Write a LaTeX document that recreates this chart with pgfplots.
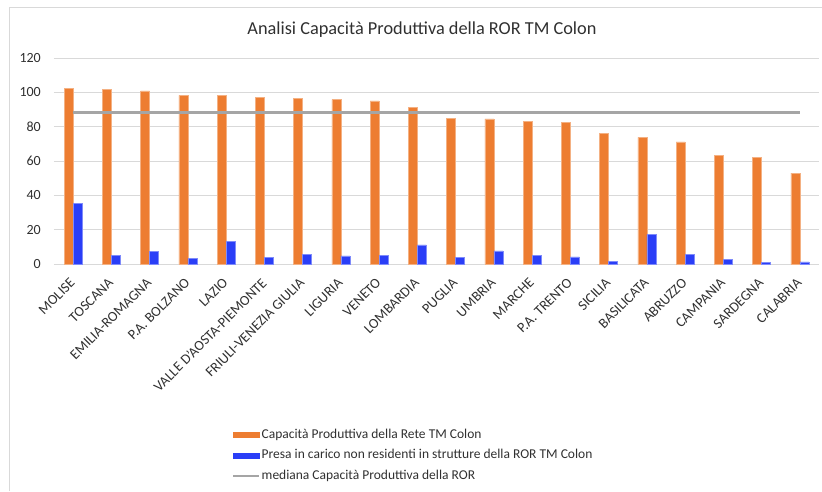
\documentclass[border=0pt]{standalone}
\usepackage{fontspec}
\setmainfont{Carlito}
\usepackage{pgfplots}
\pgfplotsset{compat=1.18}
\definecolor{cor}{HTML}{ED7D31}
\definecolor{cbl}{HTML}{2A3EF7}
\definecolor{cgr}{HTML}{A5A5A5}
\definecolor{cgrid}{HTML}{D9D9D9}
\definecolor{ctxt}{HTML}{303030}
\begin{document}
\begin{tikzpicture}
\path[use as bounding box] (0pt,0pt) rectangle (822pt,491pt);
\draw[cgrid, line width=1pt] (9.5pt,0pt) -- (9.5pt,483.5pt) -- (822pt,483.5pt);
\node[font=\fontsize{18.3}{20}\selectfont, text=ctxt] at (422pt,461pt) {Analisi Capacità Produttiva della ROR TM Colon};
\begin{axis}[
  at={(54pt,227pt)}, anchor=south west,
  scale only axis, width=765pt, height=206pt,
  xmin=-0.5, xmax=19.5, ymin=0, ymax=120,
  ytick={0,20,...,120},
  xtick={0,...,19},
  xticklabels={MOLISE, TOSCANA, EMILIA-ROMAGNA, P.A. BOLZANO, LAZIO, VALLE D'AOSTA-PIEMONTE, FRIULI-VENEZIA GIULIA, LIGURIA, VENETO, LOMBARDIA, PUGLIA, UMBRIA, MARCHE, P.A. TRENTO, SICILIA, BASILICATA, ABRUZZO, CAMPANIA, SARDEGNA, CALABRIA},
  axis line style={draw=none},
  ymajorgrids, grid style={cgrid, line width=1pt},
  major tick length=0pt,
  /pgf/number format/assume math mode=true,
  y tick label style={font=\fontsize{14}{16}\selectfont, text=ctxt, inner sep=0pt, anchor=east, xshift=-13pt},
  x tick label style={font=\fontsize{14.2}{16}\selectfont, text=ctxt, inner sep=0pt, xshift=-4pt, yshift=-13pt, rotate=45, anchor=north east},
  legend style={at={(0.2327,-0.799)}, anchor=north west, draw=none, fill=none, inner sep=0pt,
    font=\fontsize{13.5}{15}\selectfont, text=ctxt, row sep=8pt, column sep=1.5pt,
    nodes={inner sep=0pt, text height=9.5pt, text depth=3pt}},
  legend cell align=left,
]
\addplot[fill=cor, draw=cor!60!white, line width=0.5pt, ybar, bar width=9pt, bar shift=-4.5pt,
  legend image code/.code={\fill[cor] (0pt,-2.5pt) rectangle (26pt,2.5pt);}]
  coordinates {(0,102.5) (1,101.6) (2,100.8) (3,98.3) (4,98.3) (5,97.1) (6,96.3) (7,95.7) (8,95.0) (9,91.1) (10,84.9) (11,84.5) (12,83.1) (13,82.3) (14,75.9) (15,73.8) (16,71.1) (17,63.3) (18,62.1) (19,53.0)};
\addlegendentry{Capacità Produttiva della Rete TM Colon}
\addplot[fill=cbl, draw=cbl!60!white, line width=0.5pt, ybar, bar width=9pt, bar shift=4.5pt,
  legend image code/.code={\fill[cbl] (0pt,-2.5pt) rectangle (26pt,2.5pt);}]
  coordinates {(0,35.1) (1,4.9) (2,7.2) (3,3.1) (4,13.0) (5,3.9) (6,5.8) (7,4.7) (8,5.2) (9,11.1) (10,3.7) (11,7.6) (12,5.0) (13,4.1) (14,1.6) (15,17.1) (16,5.8) (17,2.5) (18,0.8) (19,1.2)};
\addlegendentry{Presa in carico non residenti in strutture della ROR TM Colon}
\addplot[cgr, line width=2.7pt, mark=none,
  legend image code/.code={\draw[cgr, line width=2pt] (0pt,0pt) -- (26pt,0pt);}]
  coordinates {(0,88.2) (1,88.2) (2,88.2) (3,88.2) (4,88.2) (5,88.2) (6,88.2) (7,88.2) (8,88.2) (9,88.2) (10,88.2) (11,88.2) (12,88.2) (13,88.2) (14,88.2) (15,88.2) (16,88.2) (17,88.2) (18,88.2) (19,88.2)};
\addlegendentry{mediana Capacità Produttiva della ROR}
\end{axis}
\end{tikzpicture}
\end{document}
